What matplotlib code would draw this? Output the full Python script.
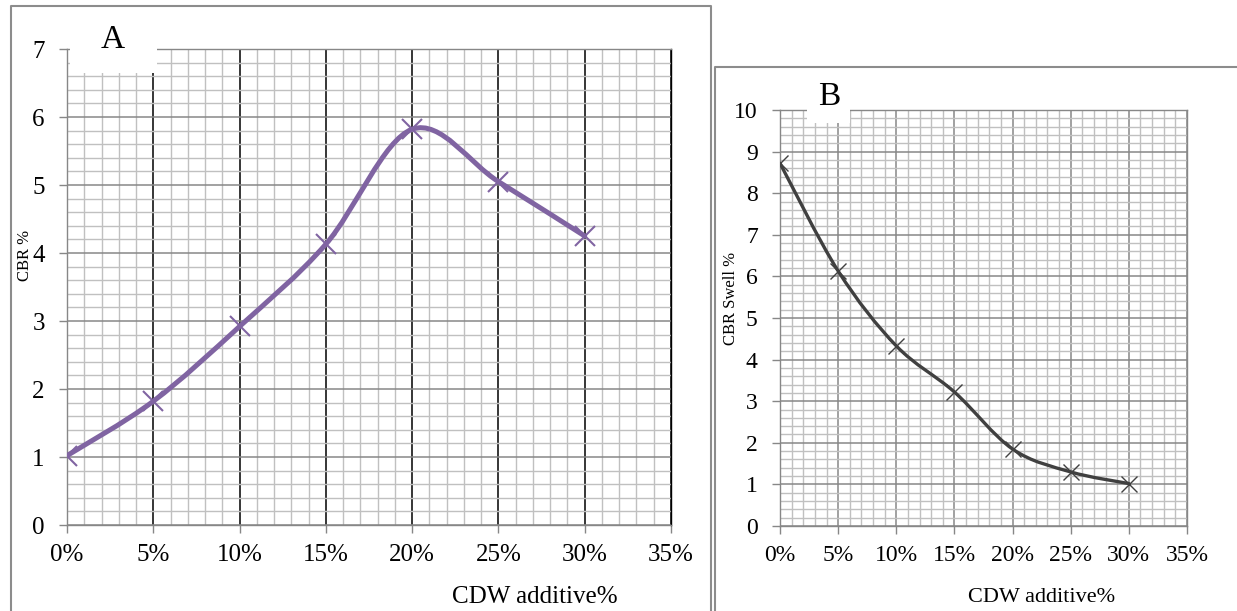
import matplotlib
matplotlib.use("Agg")
import matplotlib.pyplot as plt
from matplotlib.path import Path
from matplotlib.patches import PathPatch, Rectangle
from matplotlib.lines import Line2D
from matplotlib.ticker import MultipleLocator, PercentFormatter
import numpy as np

plt.rcParams['font.family'] = ['Liberation Serif', 'DejaVu Serif']

# data
cdw = [0.00, 0.05, 0.10, 0.15, 0.20, 0.25, 0.30]
cbr = [1.02, 1.82, 2.92, 4.13, 5.82, 5.05, 4.25]
swell = [8.72, 6.13, 4.33, 3.22, 1.85, 1.30, 1.02]

W, H = 1237, 611
fig = plt.figure(figsize=(W / 100, H / 100), dpi=100)


def fbox(x0, y0, x1, y1):
    # pixel box (top-left origin) -> figure rect
    return [x0 / W, 1 - y1 / H, (x1 - x0) / W, (y1 - y0) / H]


def smooth_path(xs, ys):
    # excel-like smoothed line: catmull-rom turned into bezier segments
    pts = np.column_stack([xs, ys])
    verts = [pts[0]]
    codes = [Path.MOVETO]
    n = len(pts)
    for i in range(n - 1):
        p0 = pts[i - 1] if i > 0 else pts[i]
        p1 = pts[i]
        p2 = pts[i + 1]
        p3 = pts[i + 2] if i + 2 < n else pts[i + 1]
        verts += [p1 + (p2 - p0) / 6, p2 - (p3 - p1) / 6, p2]
        codes += [Path.CURVE4] * 3
    return Path(verts, codes)


def setup(ax, ymax, xmajor_color, tick_fs, pad_y, pad_x):
    ax.set_xlim(0, 0.35)
    ax.set_ylim(0, ymax)
    ax.xaxis.set_major_locator(MultipleLocator(0.05))
    ax.xaxis.set_minor_locator(MultipleLocator(0.01))
    ax.yaxis.set_major_locator(MultipleLocator(1))
    ax.yaxis.set_minor_locator(MultipleLocator(0.2))
    ax.xaxis.set_major_formatter(PercentFormatter(1.0, decimals=0))
    ax.set_axisbelow(True)
    ax.grid(which='minor', color='#c0c0c0', lw=1.0)
    ax.yaxis.grid(which='major', color='#878787', lw=1.1)
    ax.xaxis.grid(which='major', color=xmajor_color, lw=1.1)
    ax.tick_params(which='minor', length=0)
    ax.tick_params(which='major', length=6, width=1, color='#878787',
                   labelsize=tick_fs)
    ax.tick_params(axis='y', pad=pad_y)
    ax.tick_params(axis='x', pad=pad_x)
    for s in ax.spines.values():
        s.set_color('#878787')
        s.set_linewidth(1.0)


# panel A
axA = fig.add_axes(fbox(67, 49, 671, 525))
setup(axA, 7, 'black', 18, 10, 8)
axA.spines['right'].set_color('black')
axA.add_patch(PathPatch(smooth_path(cdw, cbr), fill=False,
                        edgecolor='#8064a2', lw=3.6, zorder=3,
                        capstyle='round', joinstyle='round'))
axA.plot(cdw, cbr, ls='none', marker='x', ms=14, mew=1.5,
         color='#8064a2', zorder=4)
fig.text(25 / W, 1 - 255 / H, 'CBR %', rotation=90, fontsize=12,
         ha='center', va='center')
fig.text(535 / W, 1 - 597 / H, 'CDW additive%', fontsize=18,
         ha='center', va='center')

# panel B
axB = fig.add_axes(fbox(780, 110, 1187, 526))
setup(axB, 10, '#878787', 17, 10, 8)
axB.add_patch(PathPatch(smooth_path(cdw, swell), fill=False,
                        edgecolor='#404040', lw=2.4, zorder=3,
                        capstyle='round', joinstyle='round'))
axB.plot(cdw, swell, ls='none', marker='x', ms=11, mew=1.0,
         color='#404040', zorder=4)
fig.text(731 / W, 1 - 298 / H, 'CBR Swell %', rotation=90, fontsize=12,
         ha='center', va='center')
fig.text(1042 / W, 1 - 598 / H, 'CDW additive%', fontsize=16,
         ha='center', va='center')

# white title boxes over the grid
for (x0, y0, x1, y1), lab, cx, cy in [((70, 6, 157, 73), 'A', 113, 40),
                                     ((807, 67, 850, 123), 'B', 829, 97)]:
    r = fbox(x0, y0, x1, y1)
    fig.add_artist(Rectangle((r[0], r[1]), r[2], r[3], transform=fig.transFigure,
                             facecolor='white', edgecolor='none', zorder=5))
    fig.text(cx / W, 1 - cy / H, lab, fontsize=24, ha='center', va='center',
             zorder=6)

# panel frames
frame = '#8c8c8c'
for xs, ys in [([11, 11, 711, 711], [620, 6, 6, 620]),
               ([715, 715, 1240], [620, 67, 67])]:
    fig.add_artist(Line2D([x / W for x in xs], [1 - y / H for y in ys],
                          transform=fig.transFigure, color=frame, lw=1.5,
                          zorder=7))

fig.savefig('out.png', dpi=100)
